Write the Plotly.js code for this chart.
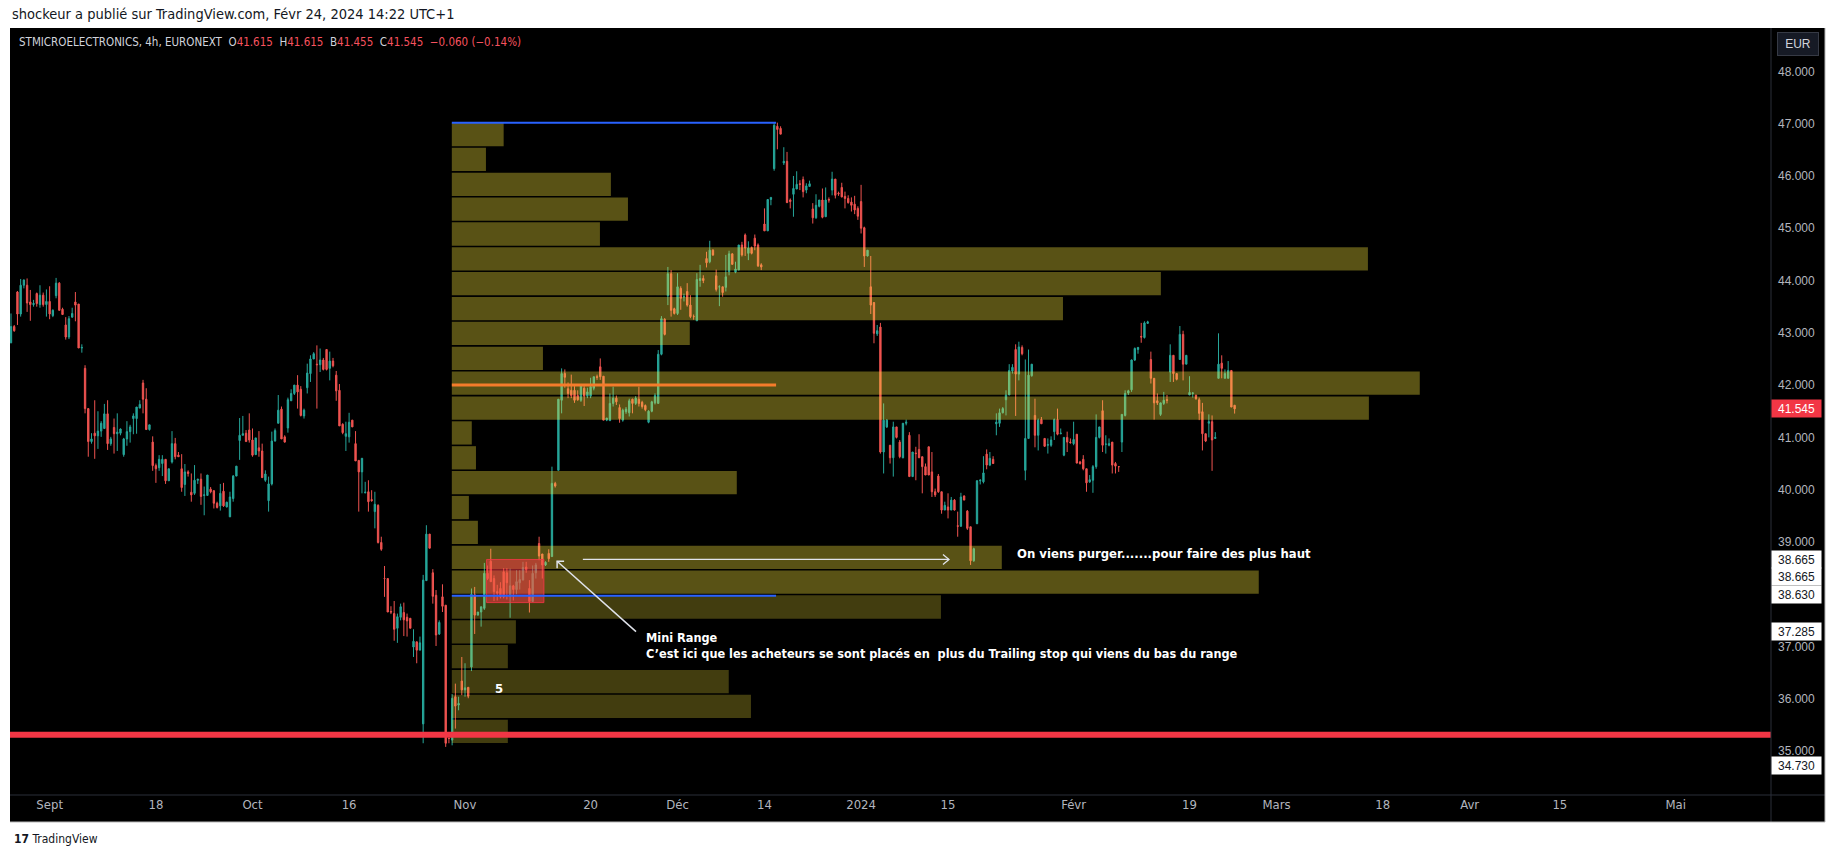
<!DOCTYPE html>
<html><head><meta charset="utf-8">
<script src="https://cdn.plot.ly/plotly-3.0.1.min.js"></script>
<style>html,body{margin:0;padding:0;background:#fff;}#chart{width:1835px;height:858px;}</style>
</head><body><div id="chart"></div>
<script>
// ---------- DATA: 4h candles [open, high, low, close] ----------
const augBars = [
[42.81,43.37,42.80,43.12],[43.12,43.15,43.02,43.04],[43.78,43.80,43.15,43.36],[43.36,44.03,43.31,43.91],
[43.91,44.02,43.85,44.01],[43.91,44.04,43.40,43.57],[43.59,43.82,43.23,43.54],[43.54,43.63,43.50,43.56],
[43.75,43.77,43.50,43.56],[43.54,43.91,43.48,43.72],[43.72,43.77,43.50,43.54],[43.54,43.83,43.31,43.60]];
const sepBars = [
[43.60,43.89,43.26,43.36],[43.33,43.45,43.30,43.43],[43.71,44.05,43.66,43.95],[43.95,43.97,43.43,43.43],
[43.45,43.48,43.34,43.35],[43.15,43.30,42.87,42.92],[42.92,43.32,42.88,43.27],[43.30,43.48,43.29,43.37],
[43.59,43.78,43.22,43.53],[43.55,43.55,42.71,42.71],[42.71,42.78,42.62,42.72],[42.32,42.38,41.46,41.55],
[41.55,41.56,40.63,40.92],[40.92,41.08,40.88,40.97],[41.08,41.71,40.59,41.03],[41.03,41.50,40.78,41.12],
[41.12,41.31,41.01,41.27],[41.17,41.64,41.17,41.45],[41.45,41.71,40.76,40.88],[40.88,41.01,40.84,40.97],
[41.19,41.36,40.69,41.07],[41.07,41.46,40.74,41.10],[41.08,41.17,41.04,41.16],[40.67,40.99,40.63,40.97],
[40.97,41.31,40.84,41.11],[41.11,41.24,40.90,41.20],[41.36,41.46,41.06,41.41],[41.36,41.58,41.07,41.58],
[41.56,41.71,41.56,41.63],[42.04,42.10,41.46,41.73],[41.73,41.94,41.15,41.15],[41.15,41.24,41.13,41.24],
[40.91,41.02,40.36,40.46],[40.46,40.50,40.13,40.40],[40.42,40.66,40.36,40.58],[40.50,40.66,40.26,40.58],
[40.58,40.58,40.11,40.17],[40.17,40.40,40.17,40.40],[40.53,41.12,40.50,40.88],[40.88,40.99,40.58,40.63],
[40.66,40.72,40.63,40.63],[40.40,40.68,39.96,40.04],[40.10,40.49,39.88,40.34],[40.34,40.37,40.25,40.31],
[39.95,40.31,39.77,39.90],[39.93,40.47,39.90,40.18],[40.18,40.20,40.11,40.20],[40.20,40.31,39.71,39.87],
[39.89,40.06,39.51,39.90],[39.89,40.28,39.89,40.28],[40.01,40.05,39.93,39.96],[39.98,39.99,39.64,39.74],
[39.74,39.77,39.64,39.66],[39.69,40.11,39.60,39.93],[39.97,40.13,39.67,39.69],[39.67,39.77,39.66,39.76],
[39.48,39.96,39.48,39.86],[39.83,40.28,39.77,40.26],[40.26,40.45,40.26,40.45],[40.94,41.37,40.57,41.04],
[41.04,41.41,41.04,41.07],[41.08,41.14,40.92,40.92],[41.14,41.46,40.90,40.95]];
const octBars = [
[40.95,41.17,40.63,40.66],[40.67,40.99,40.67,40.99],[40.80,41.12,40.63,40.74],[40.74,40.88,40.23,40.23],
[40.18,40.37,40.15,40.30],[39.79,40.25,39.58,40.11],[40.11,41.11,40.08,40.93],[40.93,41.17,40.92,41.13],
[41.27,41.81,41.27,41.52],[41.54,41.59,40.97,40.97],[41.01,41.04,40.90,40.91],[41.18,41.76,41.09,41.72],
[41.70,41.92,41.70,41.84],[41.84,42.00,41.81,42.00],[42.00,42.19,41.55,41.87],[41.92,41.98,41.40,41.42],
[41.41,41.55,41.36,41.52],[41.95,42.41,41.84,42.23],[42.22,42.57,42.06,42.50],[42.50,42.63,42.50,42.60],
[42.40,42.76,41.55,42.39],[42.39,42.70,42.25,42.48],[42.48,42.52,42.28,42.30],[42.68,42.68,42.28,42.30],
[42.32,42.64,42.09,42.46],[42.46,42.52,42.34,42.37],[42.19,42.27,41.70,41.89],[41.90,42.02,41.22,41.22],
[41.25,41.27,41.06,41.09],[41.02,41.30,40.74,41.07],[41.01,41.47,40.90,41.29],[41.33,41.33,41.20,41.20],
[40.88,41.12,40.55,40.55],[40.56,40.56,39.58,40.34],[40.34,40.60,39.93,40.60],[39.94,40.15,39.93,39.95],
[39.96,40.18,39.58,39.77],[39.81,39.99,39.77,39.79],[39.58,39.96,39.26,39.72],[39.70,39.72,38.97,38.99],
[38.99,39.10,38.83,38.86],[38.30,38.54,37.95,38.30],[38.30,38.30,37.66,37.66],[37.67,37.77,37.62,37.66],
[37.63,37.87,37.11,37.33],[37.35,37.63,37.07,37.57],[37.56,37.82,37.50,37.76],[37.65,37.84,37.20,37.51],
[37.56,37.63,37.19,37.49],[37.54,37.54,37.35,37.35],[36.99,37.33,36.80,37.10],[37.09,37.09,36.68,36.93],
[36.93,37.19,36.93,37.07],[35.52,38.37,35.15,38.27],[38.26,39.32,38.26,39.15],[39.15,39.15,38.88,38.88],
[38.41,38.48,37.82,37.96],[37.98,38.08,37.01,37.22],[37.24,37.50,37.22,37.46],[37.95,38.19,37.66,37.77],
[37.79,37.79,35.08,35.15],[35.25,35.25,35.15,35.24],[35.21,36.09,35.11,36.01],[36.04,36.29,35.43,35.86],
[35.88,36.04,35.78,35.91],[36.34,36.80,36.07,36.17]];
const novBars = [
[36.17,36.68,36.04,36.21],[36.22,36.22,36.01,36.05],[36.61,38.11,36.53,38.00],[37.99,38.14,37.24,37.60],
[37.60,37.66,37.60,37.66],[37.66,37.76,37.38,37.76],[37.73,38.60,37.70,38.40],[38.40,38.55,38.27,38.30],
[38.63,38.87,38.24,38.24],[38.30,38.36,37.87,38.05],[38.05,38.18,37.88,38.02],[38.11,38.23,37.92,37.95],
[38.43,38.50,37.92,37.95],[38.41,38.50,37.90,38.22],[37.96,38.49,37.55,38.16],[38.16,38.18,37.88,38.09],
[38.09,38.46,38.00,38.24],[38.22,38.46,38.09,38.28],[38.27,38.62,38.27,38.51],[38.52,38.62,38.41,38.47],
[38.11,38.27,37.65,37.86],[37.86,38.55,37.86,38.40],[38.41,38.60,38.30,38.56],[38.97,39.10,38.65,38.73],
[38.77,38.77,38.30,38.56],[38.56,38.63,38.54,38.61],[38.78,38.86,38.62,38.68],[38.72,40.44,38.72,40.12],
[40.12,40.15,40.04,40.07],[40.37,41.73,40.37,41.73],[41.71,42.32,41.46,42.22],[42.22,42.30,41.95,42.15],
[41.93,42.05,41.75,41.84],[41.90,42.20,41.75,41.80],[41.90,41.98,41.66,41.71],[41.80,41.90,41.70,41.72],
[41.71,42.00,41.68,41.99],[41.94,41.98,41.60,41.79],[41.79,41.95,41.75,41.87],[41.79,42.14,41.75,41.97],
[41.94,42.16,41.90,42.16],[42.16,42.20,42.10,42.15],[42.35,42.51,42.10,42.16],[42.17,42.17,41.33,41.33],
[41.33,41.37,41.31,41.37],[41.32,41.84,41.32,41.65],[41.65,41.97,41.59,41.75],[41.75,41.80,41.62,41.68],
[41.57,41.63,41.28,41.36],[41.33,41.55,41.30,41.52],[41.49,41.58,41.45,41.54],[41.47,41.74,41.40,41.70],
[41.73,41.74,41.46,41.65],[41.65,41.79,41.62,41.75],[41.73,41.97,41.59,41.65],[41.67,41.70,41.55,41.59],
[41.61,41.63,41.50,41.53],[41.29,41.52,41.27,41.50],[41.50,41.70,41.48,41.68],[41.66,41.84,41.63,41.80],
[41.65,42.67,41.65,42.59],[42.59,43.32,42.57,43.27],[43.26,43.28,42.95,42.97],[43.71,44.26,43.53,44.13],
[44.13,44.20,43.31,43.43],[43.46,43.48,43.35,43.37]];
const decBars = [
[43.37,44.14,43.34,43.88],[43.85,43.89,43.44,43.66],[43.69,43.75,43.60,43.69],[43.79,43.95,43.50,43.53],
[43.53,43.72,43.28,43.31],[43.31,43.35,43.25,43.31],[43.23,44.14,43.23,44.02],[44.00,44.30,43.88,44.04],
[44.04,44.10,43.95,44.00],[44.42,44.55,44.25,44.34],[44.36,44.76,44.33,44.58],[44.58,44.60,44.47,44.49],
[44.09,44.21,43.79,43.83],[43.88,43.91,43.51,43.88],[43.88,43.88,43.69,43.77],[43.87,44.49,43.79,44.07],
[44.17,44.57,44.10,44.51],[44.51,44.52,44.30,44.31],[44.16,44.36,44.14,44.22],[44.20,44.68,44.20,44.68],
[44.68,44.74,44.46,44.49],[44.87,44.90,44.47,44.62],[44.52,44.75,44.39,44.62],[44.63,44.65,44.50,44.52],
[44.81,44.88,44.58,44.66],[44.68,44.71,44.26,44.28],[44.30,44.33,44.20,44.26],[45.08,45.38,44.95,44.95],
[44.95,45.55,44.95,45.55],[45.55,45.59,45.44,45.59],[46.14,47.02,46.10,46.97],[46.95,47.02,46.51,46.89],
[46.91,46.95,46.80,46.80],[46.25,46.55,46.21,46.28],[46.28,46.46,45.49,45.49],[45.54,45.57,45.38,45.51],
[45.65,46.00,45.22,45.76],[45.75,46.09,45.75,45.84],[45.85,45.92,45.73,45.84],[45.93,45.99,45.59,45.70],
[45.73,45.86,45.67,45.81],[45.80,45.91,45.80,45.85],[45.37,45.48,45.09,45.20],[45.20,45.65,45.18,45.44],
[45.42,45.54,45.40,45.54],[45.54,45.76,45.19,45.21],[45.22,45.78,45.22,45.54],[45.55,45.59,45.49,45.54],
[45.73,46.08,45.63,45.94],[45.94,45.94,45.57,45.63],[45.67,45.70,45.62,45.66],[45.78,45.87,45.59,45.60],
[45.61,45.70,45.38,45.57],[45.57,45.63,45.47,45.49],[45.50,45.59,45.32,45.44],[45.46,45.62,45.27,45.35],
[45.38,45.42,45.16,45.23]];
const janBars = [
[45.51,45.83,44.90,45.00],[45.01,45.03,44.26,44.47],[44.47,44.58,44.46,44.58],[43.88,44.47,43.36,43.53],
[43.58,43.58,42.80,42.99],[42.98,43.15,42.94,43.04],[43.11,43.19,40.69,40.72],[40.72,41.65,40.31,41.33],
[41.20,41.35,41.18,41.33],[40.85,40.85,40.50,40.61],[40.61,41.30,40.25,41.20],[41.20,41.20,40.98,41.00],
[40.91,40.95,40.60,40.63],[40.61,41.27,40.60,41.27],[41.27,41.34,41.23,41.29],[41.04,41.10,40.25,40.25],
[40.25,40.72,40.25,40.72],[40.70,40.82,40.18,40.69],[40.77,41.06,40.61,40.61],[40.63,40.63,39.93,40.44],
[40.44,40.50,40.28,40.28],[40.82,40.82,40.28,40.28],[40.34,40.72,39.86,39.96],[39.96,40.02,39.86,39.90],
[40.26,40.30,39.94,39.96],[39.96,39.96,39.54,39.61],[39.61,39.77,39.61,39.70],[39.67,39.93,39.45,39.61],
[39.61,39.86,39.61,39.80],[39.80,39.82,39.60,39.61],[39.31,39.58,39.10,39.30],[39.30,39.94,39.29,39.86],
[39.88,39.89,39.80,39.80],[39.59,39.61,39.23,39.26],[39.29,39.29,38.56,38.64],[38.64,38.89,38.62,38.87],
[39.35,40.18,39.34,40.17],[40.17,40.20,40.10,40.18],[40.15,40.64,40.12,40.32],[40.68,40.77,40.39,40.47],
[40.47,40.72,40.45,40.60],[40.58,40.64,40.49,40.50],[41.26,41.46,41.04,41.29],[41.27,41.55,41.20,41.47],
[41.47,41.58,41.46,41.55],[41.72,41.90,41.42,41.81],[41.81,42.40,41.81,42.28],[42.27,42.40,42.22,42.34],
[42.68,42.78,41.41,42.21],[42.21,42.83,42.09,42.73],[42.72,42.76,42.57,42.60],[40.37,42.49,40.18,40.98],
[40.98,42.68,40.98,42.19],[42.18,42.40,42.16,42.40],[41.42,41.74,40.81,41.04],[41.04,41.36,40.75,41.33],
[41.34,41.39,41.26,41.26],[40.98,40.98,40.82,40.83],[40.85,40.98,40.69,40.86],[40.85,41.02,40.82,40.95],
[41.11,41.36,40.95,41.34],[41.34,41.55,41.04,41.06],[41.07,41.17,41.06,41.08],[40.66,41.00,40.64,41.00],
[41.00,41.11,40.72,40.91],[40.91,40.98,40.88,40.90]];
const febBars = [
[40.88,41.30,40.85,40.96],[41.06,41.06,40.50,40.51],[40.53,40.55,40.48,40.50],[40.58,40.66,40.37,40.40],
[40.40,40.40,39.96,40.13],[40.15,40.28,40.13,40.19],[40.18,40.47,39.94,40.44],[40.44,41.44,40.40,41.00],
[41.00,41.20,40.98,41.20],[41.51,41.71,40.72,40.85],[40.87,41.04,40.69,40.87],[40.85,40.98,40.83,40.88],
[40.91,40.91,40.31,40.47],[40.50,40.53,40.31,40.45],[40.44,40.45,40.34,40.44],[40.91,41.44,40.72,41.44],
[41.42,41.90,41.40,41.84],[41.85,41.91,41.81,41.89],[41.91,42.49,41.87,42.48],[42.48,42.72,42.46,42.70],
[42.68,42.73,42.60,42.72],[42.93,43.19,42.81,42.92],[42.91,43.22,42.89,43.19],[43.18,43.23,43.18,43.21],
[42.49,42.64,42.03,42.13],[42.13,42.13,41.34,41.66],[41.70,41.84,41.62,41.66],[41.44,41.66,41.41,41.66],
[41.65,41.87,41.62,41.71],[41.72,41.81,41.65,41.71],[42.25,42.78,42.06,42.57],[42.57,42.57,42.06,42.22],
[42.22,42.22,42.09,42.11],[42.49,43.13,42.49,42.97],[42.97,43.04,42.09,42.40],[42.40,42.57,42.40,42.57],
[41.81,42.17,41.81,41.86],[41.84,41.86,41.76,41.85],[41.81,41.81,41.72,41.74],[41.72,41.76,41.33,41.46],
[41.49,41.66,40.75,41.07],[41.07,41.07,40.91,40.93],[41.27,41.44,41.00,41.30],[41.30,41.42,40.36,40.95],
[40.98,41.10,40.98,41.00],[42.13,42.99,42.13,42.40],[42.42,42.57,42.13,42.32],[42.13,42.30,42.13,42.22],
[42.13,42.46,42.13,42.28],[42.28,42.28,41.58,41.58],[41.615,41.615,41.455,41.545]];

// time-axis labels (bar index of the first bar of each labelled day)
const tickIdx  = [12, 45, 75, 105, 141, 180, 207, 234, 264, 291, 330, 366, 393, 426, 453, 481, 517];
const tickText = ['Sept','18','Oct','16','Nov','20','Déc','14','2024','15','Févr','19','Mars','18','Avr','15','Mai'];
const priceTicks = [35,36,37,38,39,40,41,42,43,44,45,46,47,48];

// fixed-range volume profile: relative volume per row (top row first), in bar-width units
const vpVolumes = [16.1,10.6,49.4,54.7,46.0,284.5,220.2,189.8,73.9,28.3,300.6,284.8,6.2,7.5,88.5,5.3,8.1,170.8,250.6,151.9,19.9,17.4,86.0,92.9,17.4];

// price labels shown on the price scale
const lastPrice = 41.545;
const drawingPrices = [38.665, 38.665, 38.630, 37.285, 34.730];

// ---------- build ----------
const bars = [].concat(augBars, sepBars, octBars, novBars, decBars, janBars, febBars);
const idx = bars.map((b, i) => i);
const o = bars.map(b => b[0]), c = bars.map(b => b[3]);
const h = bars.map(b => Math.max(b[1], b[0], b[3]));
const l = bars.map(b => Math.min(b[2], b[0], b[3]));

const X_MIN = -0.31, X_MAX = 546.58, Y_MIN = 34.16, Y_MAX = 48.83;
const PL = 10, PR = 1771, PT = 28, PB = 795;
const pxBar = (PR - PL) / (X_MAX - X_MIN);
const pxEur = (PB - PT) / (Y_MAX - Y_MIN);
const px = X => (X - PL) / (PR - PL);       // pixel -> paper x
const py = Y => (PB - Y) / (PB - PT);       // pixel -> paper y

const FN = '"Liberation Sans Narrow","Arial Narrow","DejaVu Sans Condensed","Liberation Sans",sans-serif';
const FS = '"Liberation Sans",Arial,sans-serif';
const AXIS_C = '#b2b5be', UP = '#26a69a', DN = '#ef5350';

const trace = {
  type: 'candlestick', x: idx, open: o, high: h, low: l, close: c,
  increasing: {line: {color: UP, width: 1}, fillcolor: UP},
  decreasing: {line: {color: DN, width: 1}, fillcolor: DN},
  whiskerwidth: 0, hoverinfo: 'none', showlegend: false
};

const shapes = [];
// black chart canvas incl. axes
shapes.push({type:'rect', xref:'paper', yref:'paper', x0:0, x1:px(1825), y0:py(822), y1:1,
  fillcolor:'#000000', line:{width:0}, layer:'below'});

// volume profile rows
const VP_TOP = 47.03, VP_BOTTOM = 35.14, VP_START = 136.9;
const rowH = (VP_TOP - VP_BOTTOM) / vpVolumes.length;
const gap = 0.8 / pxEur;
vpVolumes.forEach((v, k) => {
  shapes.push({type:'rect', xref:'x', yref:'y', x0:VP_START, x1:VP_START + v,
    y0:VP_TOP - (k + 1) * rowH + gap, y1:VP_TOP - k * rowH - gap,
    fillcolor: k < 19 ? 'rgba(255,235,59,0.35)' : 'rgba(255,235,59,0.26)', line:{width:0}, layer:'above'});
});

// mini range box
shapes.push({type:'rect', xref:'x', yref:'y', x0:147.7, x1:165.5, y0:37.84, y1:38.665,
  fillcolor:'rgba(242,54,69,0.55)', line:{color:'rgba(242,54,69,0.85)', width:1}, layer:'above'});

// horizontal lines from the profile
const LINE_END = 237.6;
shapes.push({type:'line', xref:'x', yref:'y', x0:VP_START, x1:LINE_END, y0:47.02, y1:47.02, line:{color:'#2962ff', width:2}, layer:'above'});
shapes.push({type:'line', xref:'x', yref:'y', x0:VP_START, x1:LINE_END, y0:37.97, y1:37.97, line:{color:'#2962ff', width:2}, layer:'above'});
shapes.push({type:'line', xref:'x', yref:'y', x0:VP_START, x1:LINE_END, y0:42.0, y1:42.0, line:{color:'#f57c2b', width:3}, layer:'above'});

// support line
shapes.push({type:'line', xref:'paper', yref:'y', x0:0, x1:1, y0:35.31, y1:35.31, line:{color:'#f23645', width:6}, layer:'above'});

// arrows
const ARW = '#e0e3eb';
const hA = {x0:177.6, x1:291.3, y:38.665};
shapes.push({type:'line', xref:'x', yref:'y', x0:hA.x0, x1:hA.x1, y0:hA.y, y1:hA.y, line:{color:ARW, width:1.3}, layer:'above'});
shapes.push({type:'path', xref:'x', yref:'y', layer:'above', line:{color:ARW, width:1.3},
  path:`M${hA.x1 - 6/pxBar},${hA.y + 5/pxEur} L${hA.x1},${hA.y} L${hA.x1 - 6/pxBar},${hA.y - 5/pxEur}`});
const dA = {tx:194.1, ty:37.285, hx:169.6, hy:38.63};
shapes.push({type:'line', xref:'x', yref:'y', x0:dA.tx, x1:dA.hx, y0:dA.ty, y1:dA.hy, line:{color:ARW, width:1.5}, layer:'above'});
shapes.push({type:'path', xref:'x', yref:'y', layer:'above', line:{color:ARW, width:1.5},
  path:`M${dA.hx + 7/pxBar},${dA.hy} L${dA.hx},${dA.hy} L${dA.hx},${dA.hy - 7/pxEur}`});

// axis separators
shapes.push({type:'line', xref:'paper', yref:'paper', x0:1, x1:1, y0:py(822), y1:1, line:{color:'#2a2e39', width:1}, layer:'above'});
shapes.push({type:'line', xref:'paper', yref:'paper', x0:0, x1:px(1825), y0:0, y1:0, line:{color:'#2a2e39', width:1}, layer:'above'});
shapes.push({type:'line', xref:'paper', yref:'paper', x0:px(1825), x1:px(1825), y0:py(822), y1:1, line:{color:'#b8b8b8', width:1}, layer:'above'});
shapes.push({type:'line', xref:'paper', yref:'paper', x0:0, x1:px(1825), y0:py(822), y1:py(822), line:{color:'#b8b8b8', width:1}, layer:'above'});

const R = '#f7525f';
const sp = '\u00a0';
const ann = [];
ann.push({xref:'paper', yref:'paper', x:px(10), y:py(14), xanchor:'left', yanchor:'middle', showarrow:false,
  text:'shockeur a publié sur TradingView.com, Févr 24, 2024 14:22 UTC+1', font:{family:FN, size:14.5, color:'#131722'}});
ann.push({xref:'paper', yref:'paper', x:px(17), y:py(42), xanchor:'left', yanchor:'middle', showarrow:false,
  font:{family:FN, size:11.5, color:'#d1d4dc'},
  text:'STMICROELECTRONICS, 4h, EURONEXT' + sp + sp + 'O<span style="color:' + R + '">41.615</span>' + sp + sp +
       'H<span style="color:' + R + '">41.615</span>' + sp + sp + 'B<span style="color:' + R + '">41.455</span>' + sp + sp +
       'C<span style="color:' + R + '">41.545</span>' + sp + sp + '<span style="color:' + R + '">−0.060 (−0.14%)</span>'});
ann.push({xref:'paper', yref:'paper', x:px(12), y:py(839), xanchor:'left', yanchor:'middle', showarrow:false,
  text:'<b>17</b> TradingView', font:{family:FN, size:12, color:'#131722'}});
ann.push({xref:'paper', yref:'paper', x:px(1798), y:py(44), xanchor:'center', yanchor:'middle', showarrow:false,
  text:'EUR', font:{family:FS, size:12, color:'#d1d4dc'}, bgcolor:'#161a25', bordercolor:'#363a45', borderwidth:1,
  width:36, height:18, borderpad:2});

// price scale labels
ann.push({xref:'paper', yref:'y', x:1, y:lastPrice, xanchor:'left', yanchor:'middle', showarrow:false,
  text:lastPrice.toFixed(3), font:{family:FS, size:12, color:'#ffffff'}, bgcolor:'#f23645', width:45, height:13, borderpad:2});
const stackShift = [0, -17, -33, 0, 0];
drawingPrices.forEach((p, k) => {
  ann.push({xref:'paper', yref:'y', x:1, y:p, yshift:stackShift[k], xanchor:'left', yanchor:'middle', showarrow:false,
    text:p.toFixed(3), font:{family:FS, size:12, color:'#131722'}, bgcolor:'#ffffff', width:45, height:13, borderpad:2});
});

// chart texts
ann.push({xref:'x', yref:'y', x:151.6, y:36.2, xanchor:'center', yanchor:'middle', showarrow:false, text:'5', font:{family:FN, size:13, color:'#ffffff', weight:700}});
ann.push({xref:'x', yref:'y', x:196.6, y:37.02, xanchor:'left', yanchor:'middle', align:'left', showarrow:false,
  text:'Mini Range<br>C\u2019est ici que les acheteurs se sont placés en' + sp + sp + 'plus du Trailing stop qui viens du bas du range',
  font:{family:FN, size:12.6, color:'#ffffff', weight:700}});
ann.push({xref:'x', yref:'y', x:311.8, y:38.77, xanchor:'left', yanchor:'middle', showarrow:false,
  text:'On viens purger.......pour faire des plus haut', font:{family:FN, size:13, color:'#ffffff', weight:700}});

const layout = {
  width:1835, height:858, margin:{l:PL, r:1835 - PR, t:PT, b:858 - PB, pad:0},
  paper_bgcolor:'#ffffff', plot_bgcolor:'#000000', showlegend:false, boxgap:0.4,
  xaxis:{range:[X_MIN, X_MAX], rangeslider:{visible:false}, showgrid:false, zeroline:false, showline:false,
    tickmode:'array', tickvals:tickIdx, ticktext:tickText, ticks:'', tickfont:{family:FN, size:13, color:AXIS_C}, fixedrange:true},
  yaxis:{range:[Y_MIN, Y_MAX], side:'right', showgrid:false, zeroline:false, showline:false,
    tickmode:'array', tickvals:priceTicks, ticktext:priceTicks.map(v => v.toFixed(3)), ticks:'', ticklabelstandoff:6,
    tickfont:{family:FS, size:12, color:AXIS_C}, fixedrange:true},
  shapes:shapes, annotations:ann
};
Plotly.newPlot('chart', [trace], layout, {staticPlot:true, displayModeBar:false});
</script></body></html>
